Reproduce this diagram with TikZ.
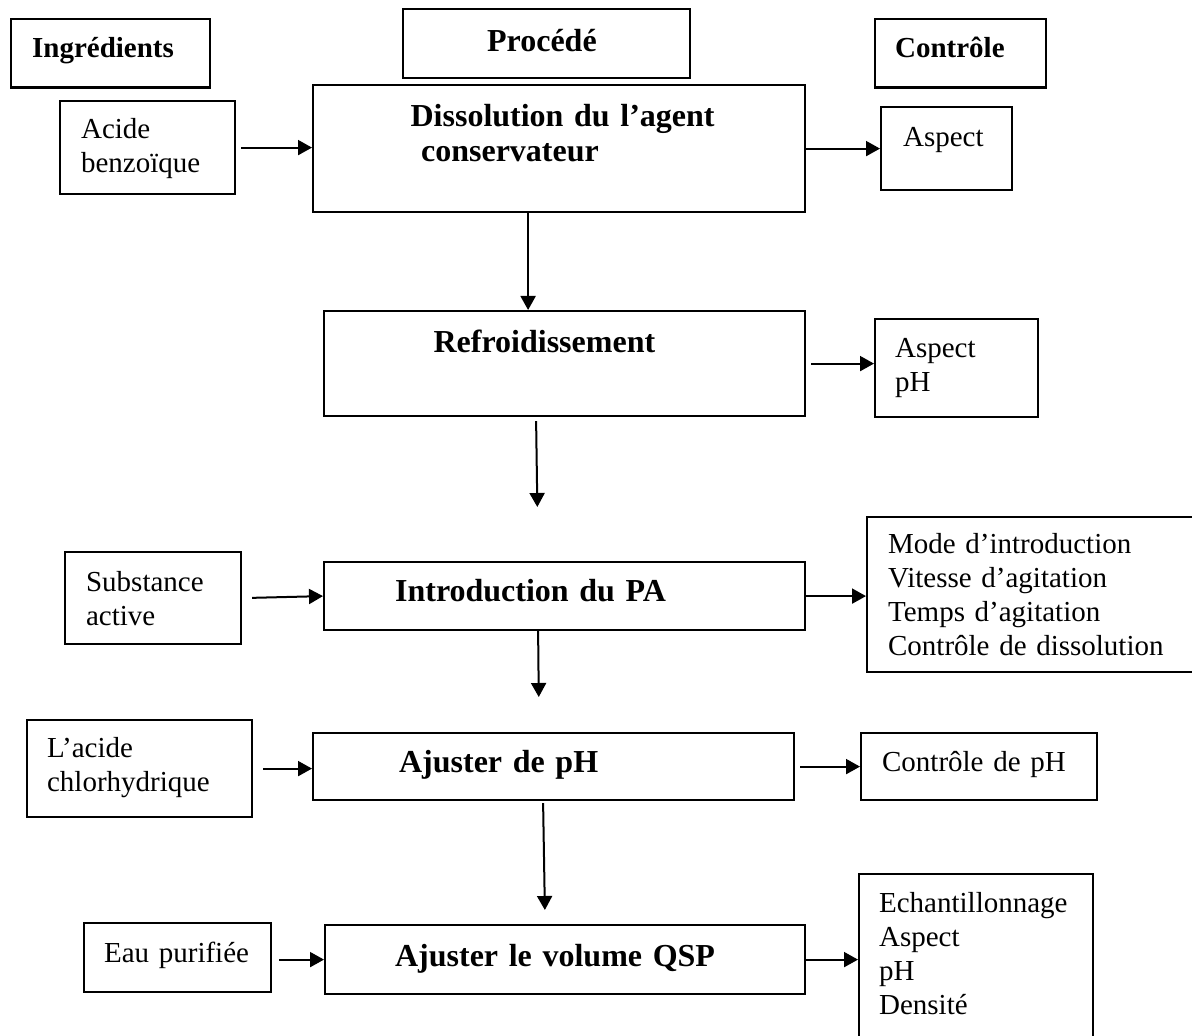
\documentclass[tikz,border=0pt]{standalone}
\usepackage{fontspec}
\setmainfont{Liberation Serif}
\usetikzlibrary{arrows.meta}
\tikzset{
  panel/.style={draw, line width=1.1pt, anchor=north west, inner ysep=0pt, align=left},
  headbox/.style={panel, font=\fontsize{14.5}{17}\selectfont\bfseries},
  stepbox/.style={panel, font=\fontsize{16}{17.5}\selectfont\bfseries},
  sidebox/.style={panel, font=\fontsize{14.5}{17}\selectfont},
  flow/.style={-{Triangle[length=7pt,width=7.5pt]}, line width=1pt}
}

\begin{document}
\begin{tikzpicture}[x=0.5pt, y=-0.5pt]
  \useasboundingbox (0,0) rectangle (1192,1036);

  % ── Column heads ─────────────────────────────────────────────────
  \node[headbox, inner xsep=10.5pt, text width=78.5pt, text height=19pt, text depth=15.2pt]
    (ing) at (10,18) {Ingrédients};
  \node[headbox, font=\fontsize{16}{17.5}\selectfont\bfseries, inner xsep=42pt,
        text width=59.25pt, text height=21pt, text depth=13.3pt]
    (proc) at (402,8) {Procédé};
  \node[headbox, inner xsep=10pt, text width=65.5pt, text height=19pt, text depth=15.2pt]
    (ctrl) at (874,18) {Contrôle};

  % ── Dissolution ──────────────────────────────────────────────────
  \node[sidebox, inner xsep=10.5pt, text width=66.5pt, text height=18.5pt, text depth=28pt]
    (acide) at (59,100) {Acide\\benzoïque};
  \node[stepbox, inner xsep=0pt, text width=246pt, text height=20.5pt, text depth=43pt]
    (diss) at (312,84) {\hspace*{48.75pt}Dissolution du l’agent\\\hspace*{54pt}conservateur};
  \node[sidebox, inner xsep=11pt, text width=43.5pt, text height=19.5pt, text depth=22pt]
    (asp) at (880,106) {Aspect};

  \draw[flow, shorten <=2.5pt] (acide.east) -- (acide.east -| diss.west);
  \draw[flow] (diss.east) -- (diss.east -| asp.west);

  % ── Refroidissement ──────────────────────────────────────────────
  \node[stepbox, inner xsep=54.75pt, text width=131pt, text height=20.85pt, text depth=31.65pt]
    (refroid) at (323,310) {Refroidissement};
  \node[sidebox, inner xsep=10pt, text width=61.5pt, text height=19.35pt, text depth=29.65pt]
    (asph) at (874,318) {Aspect\\pH};

  \draw[flow] ([xshift=-15.5pt]diss.south) -- ([xshift=-18.25pt]refroid.north);
  \draw[flow, shorten <=2.5pt] (refroid.east) -- (refroid.east -| asph.west);

  % ── Introduction du PA ───────────────────────────────────────────
  \node[sidebox, inner xsep=10.5pt, text width=67pt, text height=19.85pt, text depth=26.15pt]
    (subst) at (64,551) {Substance\\active};
  \node[stepbox, inner xsep=35.5pt, text width=169.5pt, text height=19.5pt, text depth=14.5pt]
    (intro) at (323,561) {Introduction du PA};
  \node[sidebox, inner xsep=10.5pt, text width=144pt, text height=18.15pt, text depth=59.35pt]
    (mode) at (866,516) {Mode d’introduction\\Vitesse d’agitation\\Temps d’agitation\\Contrôle de dissolution};

  \draw[flow, shorten >=27pt] ([xshift=-14.25pt, yshift=-2pt]refroid.south) -- ([xshift=-13.25pt]intro.north);
  \draw[flow, shorten <=5pt] (subst.east) -- (intro.west);
  \draw[flow] (intro.east) -- (intro.east -| mode.west);

  % ── Ajuster de pH ────────────────────────────────────────────────
  \node[sidebox, inner xsep=10pt, text width=92.5pt, text height=18.85pt, text depth=29.65pt]
    (lacide) at (26,719) {L’acide\\chlorhydrique};
  \node[stepbox, inner xsep=43pt, text width=154.5pt, text height=19.85pt, text depth=13.65pt]
    (ph) at (312,732) {Ajuster de pH};
  \node[sidebox, inner xsep=10.5pt, text width=97pt, text height=19pt, text depth=14.5pt]
    (ctrlph) at (860,732) {Contrôle de pH};

  \draw[flow, shorten >=17.5pt] ([xshift=-13.25pt]intro.south) -- ([xshift=-7.25pt]ph.north);
  \draw[flow, shorten <=5pt] (lacide.east) -- (lacide.east -| ph.west);
  \draw[flow, shorten <=2.5pt] (ph.east) -- (ph.east -| ctrlph.west);

  % ── Ajuster le volume ────────────────────────────────────────────
  \node[sidebox, inner xsep=10pt, text width=73.5pt, text height=19.5pt, text depth=15pt]
    (eau) at (83,922) {Eau purifiée};
  \node[stepbox, inner xsep=35pt, text width=170pt, text height=20.5pt, text depth=14pt]
    (vol) at (324,924) {Ajuster le volume QSP};
  \node[sidebox, inner xsep=10pt, text width=97pt, text height=19.35pt, text depth=64.15pt]
    (ech) at (858,873) {Echantillonnage\\Aspect\\pH\\Densité};

  \draw[flow, shorten >=7pt] ([xshift=-5.25pt, yshift=-1pt]ph.south) -- ([xshift=-10pt]vol.north);
  \draw[flow, shorten <=3.5pt] (vol.west -| eau.east) -- (vol.west);
  \draw[flow] (vol.east) -- (vol.east -| ech.west);
\end{tikzpicture}
\end{document}
